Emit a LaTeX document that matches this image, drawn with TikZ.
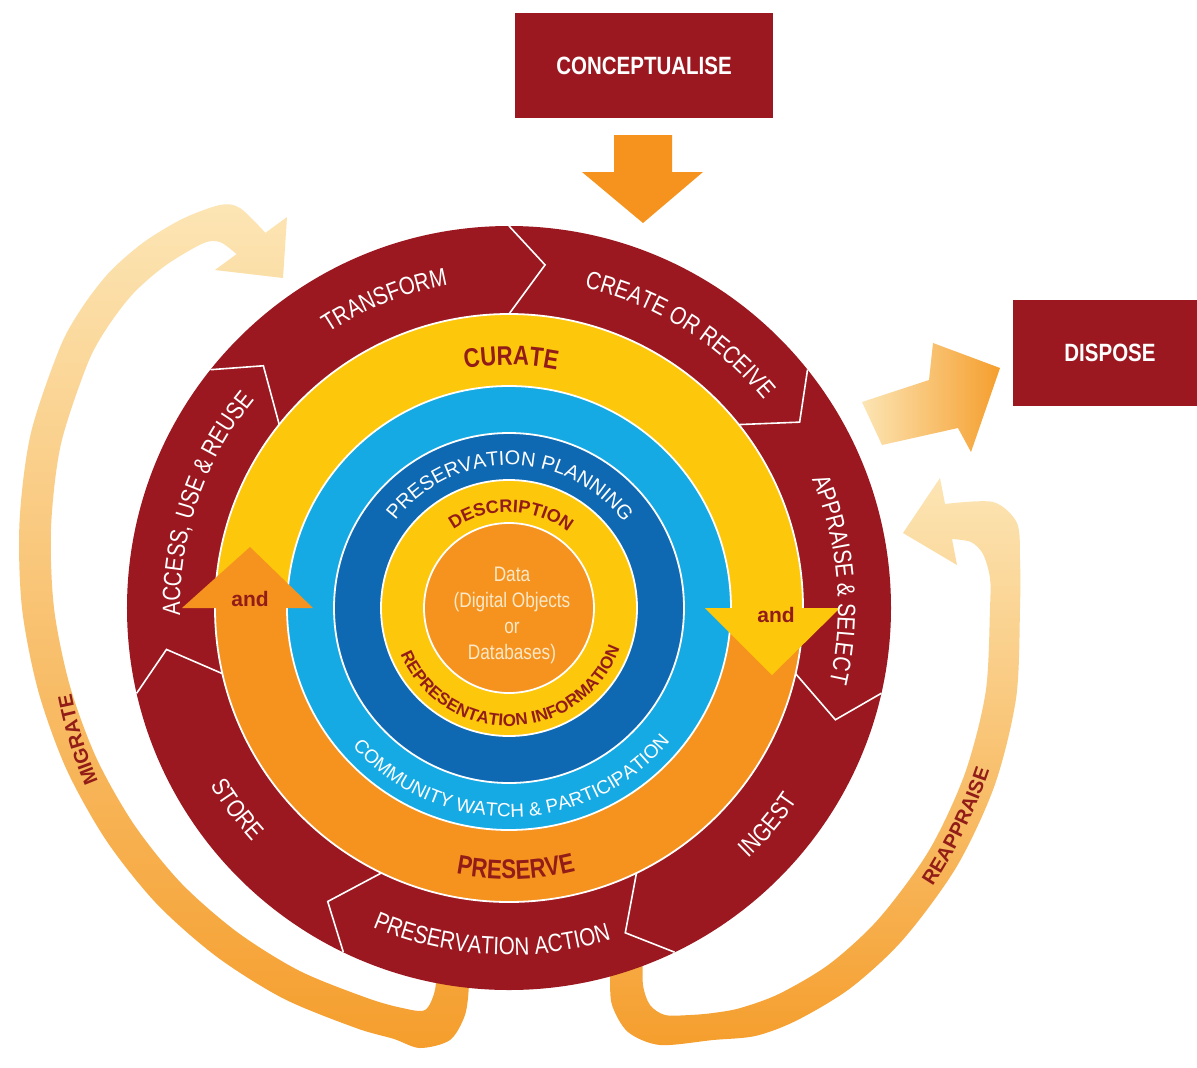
\documentclass[tikz,border=0pt]{standalone}
\usepackage{fontspec}
\setmainfont{Liberation Sans}
\newfontfamily\condfont[FakeStretch=0.82]{Liberation Sans}
\usetikzlibrary{decorations.text}

\definecolor{dccred}{RGB}{156,24,32}
\definecolor{dccyellow}{RGB}{253,199,12}
\definecolor{dccorange}{RGB}{246,147,30}
\definecolor{dcccyan}{RGB}{22,170,228}
\definecolor{dccblue}{RGB}{14,104,178}
\definecolor{dcctext}{RGB}{145,28,24}
\definecolor{bandpale}{RGB}{252,229,180}
\definecolor{bandorange}{RGB}{245,158,45}
\definecolor{datacream}{RGB}{250,232,200}

\newcommand\ringfont{\condfont\fontsize{12.5}{14}\selectfont}
\newcommand\boxfont{\condfont\bfseries\fontsize{12.5}{14}\selectfont}
\newcommand\curatefont{\condfont\bfseries\fontsize{13.5}{15}\selectfont}
\newcommand\planfont{\fontsize{10}{12}\selectfont}
\newcommand\watchfont{\fontsize{9.5}{11}\selectfont}
\newcommand\descfont{\bfseries\fontsize{9}{11}\selectfont}
\newcommand\reprfont{\bfseries\fontsize{8.5}{10}\selectfont}
\newcommand\bandfont{\bfseries\fontsize{10}{12}\selectfont}
\newcommand\andfont{\bfseries\fontsize{10.5}{12}\selectfont}
\newcommand\datafont{\condfont\fontsize{10.5}{13}\selectfont}

\begin{document}
\begin{tikzpicture}[x=0.5pt,y=0.5pt,
    ringline/.style={draw=white,line width=0.9pt},
    chevline/.style={draw=white,line width=0.8pt},
    bigbox/.style={fill=dccred,text=white,font=\boxfont,inner sep=0pt},
    arctext/.style 2 args={decorate,decoration={text along path,text align=center,text={|#1|#2}}},
  ]
    \useasboundingbox (-509,-459) rectangle (688,608);
    \fill[white] (-509,-459) rectangle (688,608);

    % migrate band, under the wheel
    \shade[top color=bandpale,bottom color=bandorange]
      plot[smooth] coordinates {(-40,-352) (-40,-377) (-44,-407) (-59,-432) (-89,-440) (255:446) (250:447) (240:451) (230:455) (220:460) (210:465) (200:471) (190:478) (180:487) (170:497) (160:509) (150:519) (145:522) (140:522) (135:517) (130:508) (-289,403) (-269,400) (-243.6,375.1)}
      -- (-222,391) -- (-226,330) -- (-294,338) -- (-272.4,353.9)
      -- plot[smooth] coordinates {(-272.4,353.9) (-289,366) (130:476) (135:485) (140:490) (145:490) (150:487) (160:477) (170:465) (180:455) (190:446) (200:439) (210:433) (220:428) (230:423) (240:419) (250:415) (255:414) (-84,-402) (-74,-382) (-72,-352)}
      -- cycle;
    % reappraise band
    \shade[top color=bandpale,bottom color=bandorange]
      plot[smooth] coordinates {(101,-347) (101,-367) (103,-397) (119,-424) (151,-437) (204,-432) (-60:494) (-55:503) (-48:511) (-40:515) (-30:517) (-20:517) (-10:515) (0:511) (511,48) (508,85) (484,106) (436,104)}
      -- (431,130) -- (394,75) -- (448,43) -- (443,69)
      -- plot[smooth] coordinates {(443,69) (462,66) (474,54) (481,30) (0:481) (-10:484) (-20:485) (-30:485) (-40:483) (-48:479) (-55:471) (-60:462) (204,-405) (181,-407) (156,-407) (141,-397) (134,-377) (134,-347)}
      -- cycle;

    % outer ring of actions
    \fill[dccred] (0,0) circle (382);
    \draw[chevline] (90:294) -- (84:345) -- (90:382);
    \draw[chevline] (38.6:294) -- (32.6:345) -- (38.6:382);
    \draw[chevline] (-12.9:294) -- (-18.9:345) -- (-12.9:382);
    \draw[chevline] (-64.3:294) -- (-70.3:345) -- (-64.3:382);
    \draw[chevline] (-115.7:294) -- (-121.7:345) -- (-115.7:382);
    \draw[chevline] (-167.1:294) -- (-173.1:345) -- (-167.1:382);
    \draw[chevline] (141.4:294) -- (135.4:345) -- (141.4:382);

    % curate / preserve ring
    \fill[dccyellow] (294,0) arc[start angle=0,end angle=180,radius=294] -- cycle;
    \fill[dccorange] (-294,0) arc[start angle=180,end angle=360,radius=294] -- cycle;
    \draw[ringline] (0,0) circle (294);
    \filldraw[fill=dcccyan,ringline] (0,0) circle (222);
    \filldraw[fill=dccblue,ringline] (0,0) circle (175);
    \filldraw[fill=dccyellow,ringline] (0,0) circle (128);
    \filldraw[fill=dccorange,ringline] (0,0) circle (85);

    % the two "and" heads
    \fill[dccorange] (-327,0) -- (-196,0) -- (-259,61) -- cycle;
    \fill[dccyellow] (196,0) -- (331,0) -- (263,-67) -- cycle;
    \node (andl) [font=\andfont,text=dcctext] at (-259,9) {and};
    \node (andr) [font=\andfont,text=dcctext] at (267,-7) {and};

    % labels of the outer ring
    \path[arctext={\ringfont\color{white}}{TRANSFORM}] (140:329) arc[start angle=140,end angle=84,radius=329];
    \path[arctext={\ringfont\color{white}}{CREATE OR RECEIVE}] (88:329) arc[start angle=88,end angle=28,radius=329];
    \path[arctext={\ringfont\color{white}}{APPRAISE {\&} SELECT}] (33:329) arc[start angle=33,end angle=-23,radius=329];
    \path[arctext={\ringfont\color{white}}{INGEST}] (-60:347) arc[start angle=-60,end angle=-20,radius=347];
    \path[arctext={\ringfont\color{white}}{PRESERVATION ACTION}] (-123:347) arc[start angle=-123,end angle=-63,radius=347];
    \path[arctext={\ringfont\color{white}}{STORE}] (-163.5:347) arc[start angle=-163.5,end angle=-123.5,radius=347];
    \path[arctext={\ringfont\color{white}}{ACCESS, USE {\&} REUSE}] (191:329) arc[start angle=191,end angle=131,radius=329];

    % labels of the inner rings
    \path[arctext={\curatefont\color{dcctext}}{CURATE}] (114.5:243) arc[start angle=114.5,end angle=64.5,radius=243];
    \path[arctext={\curatefont\color{dcctext}}{PRESERVE}] (-113.5:271) arc[start angle=-113.5,end angle=-63.5,radius=271];
    \path[arctext={\planfont\color{white}}{PRESERVATION PLANNING}] (149.5:143) arc[start angle=149.5,end angle=29.5,radius=143];
    \path[arctext={\watchfont\color{white}}{COMMUNITY WATCH {\&} PARTICIPATION}] (-149:209) arc[start angle=-149,end angle=-29,radius=209];
    \path[arctext={\descfont\color{dcctext}}{DESCRIPTION}] (133.7:96) arc[start angle=133.7,end angle=43.7,radius=96];
    \path[arctext={\reprfont\color{dcctext}}{REPRESENTATION INFORMATION}] (-166.4:118) arc[start angle=-166.4,end angle=-10.4,radius=118];
    \node (data) [align=center,text=datacream,font=\datafont] at (3,-7) {Data\\(Digital Objects\\or\\Databases)};

    % texts on the two bands
    \path[arctext={\bandfont\color{dcctext}}{MIGRATE}] (212:446) arc[start angle=212,end angle=182,radius=446];
    \path[arctext={\bandfont\color{dcctext}}{REAPPRAISE}] (-42:507) arc[start angle=-42,end angle=-10,radius=507];

    % conceptualise and dispose
    \node (concept) [bigbox,minimum width=129pt,minimum height=52.5pt] at (135,542.5) {CONCEPTUALISE};
    \fill[dccorange] (105,473) -- (163,473) -- (163,436) -- (194,436) -- (134,385) -- (73,436) -- (105,436) -- cycle;
    \node (dispose) [bigbox,minimum width=97pt,minimum height=53pt] at (601,255) {DISPOSE};
    \shade[left color=bandpale,right color=bandorange] (353,206) -- (420,228) -- (424,265) -- (491,240) -- (462,156) -- (449,180) -- (373,163) -- cycle;
\end{tikzpicture}
\end{document}
